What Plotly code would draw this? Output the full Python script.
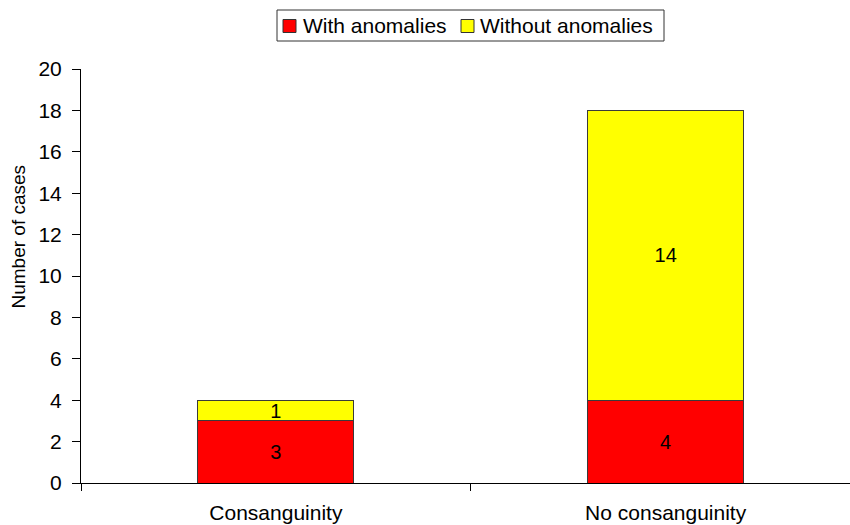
import plotly.graph_objects as go

categories = ["Consanguinity", "No consanguinity"]
with_anomalies = [3, 4]
without_anomalies = [1, 14]
series_names = ["With anomalies", "Without anomalies"]
series_colors = ["#FF0000", "#FFFF00"]
y_ticks = list(range(0, 21, 2))

FONT = "Liberation Sans, Arial, sans-serif"
OUTLINE = dict(color="#3a3a3a", width=1)
LABEL_FONT = dict(family=FONT, size=20, color="black")

W, H = 850, 525
M_L, M_R, M_T, M_B = 81, 0, 69, 42
PLOT_W = W - M_L - M_R
PLOT_H = H - M_T - M_B


def px_x(p):
    """Page pixel column -> paper x fraction."""
    return (p - M_L) / PLOT_W


def px_y(p):
    """Page pixel row -> paper y fraction."""
    return (H - M_B - p) / PLOT_H


fig = go.Figure()
for values, name, color in zip([with_anomalies, without_anomalies],
                               series_names, series_colors):
    fig.add_trace(go.Bar(
        x=categories, y=values, name=name,
        marker=dict(color=color, line=OUTLINE),
        text=[str(v) for v in values], textposition="inside",
        insidetextanchor="middle", textangle=0, constraintext="none",
        textfont=LABEL_FONT, showlegend=False,
    ))

# Boxed legend across the top, centred over the plot
shapes = [dict(
    type="rect", xref="paper", yref="paper",
    x0=px_x(277), x1=px_x(664), y0=px_y(41), y1=px_y(10),
    line=dict(color="#333333", width=1), fillcolor="white", layer="above",
)]
annotations = []
for name, color, sq_left, txt_left in zip(series_names, series_colors,
                                          [283, 461], [302, 479]):
    shapes.append(dict(
        type="rect", xref="paper", yref="paper",
        x0=px_x(sq_left), x1=px_x(sq_left + 13), y0=px_y(32.5), y1=px_y(19.5),
        line=dict(color="#333333", width=1), fillcolor=color, layer="above",
    ))
    annotations.append(dict(
        text=name, showarrow=False, xref="paper", yref="paper",
        x=px_x(txt_left), y=px_y(26), xanchor="left", yanchor="middle",
        font=dict(size=21), borderpad=0,
    ))

annotations.append(dict(
    text="Number of cases", textangle=-90, showarrow=False,
    xref="paper", yref="paper", x=px_x(17.5), y=px_y(237),
    xanchor="center", yanchor="middle", font=dict(size=19),
))

fig.update_layout(
    width=W, height=H,
    margin=dict(l=M_L, r=M_R, t=M_T, b=M_B),
    barmode="stack", bargap=0.6,
    paper_bgcolor="white", plot_bgcolor="white",
    font=dict(family=FONT, size=20, color="black"),
    showlegend=False,
    xaxis=dict(
        range=[-0.5, 1.473], showline=True, linecolor="black", linewidth=1,
        ticks="outside", tickson="boundaries", ticklen=7, tickcolor="black",
        showgrid=False, zeroline=False, ticklabelstandoff=11,
        tickfont=dict(size=21), automargin=False,
    ),
    yaxis=dict(
        range=[0, 20], tickvals=y_ticks, showline=True, linecolor="black",
        linewidth=1, ticks="outside", ticklen=8, tickcolor="black",
        showgrid=False, zeroline=False, ticklabelstandoff=6,
        tickfont=dict(size=21), automargin=False,
    ),
    shapes=shapes,
    annotations=annotations,
)

fig.write_html("out.html")
